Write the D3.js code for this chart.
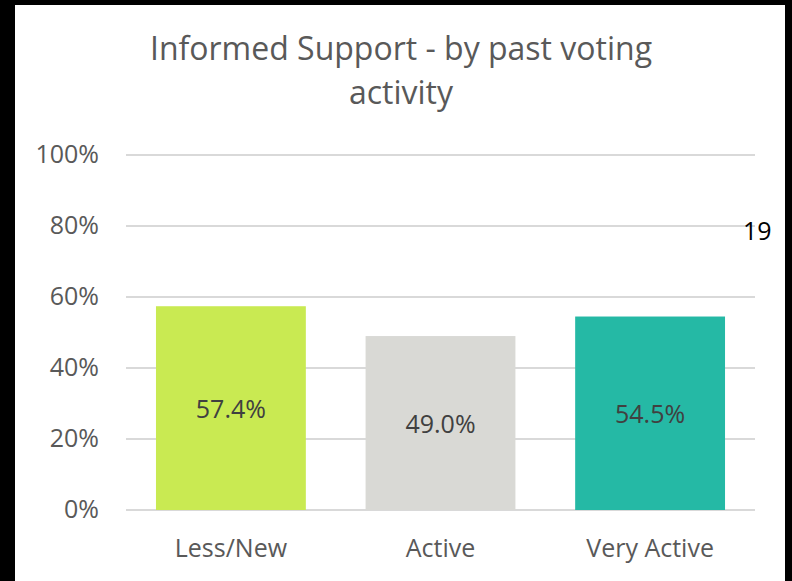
<!DOCTYPE html>
<html>
<head>
<meta charset="utf-8">
<script src="https://cdn.jsdelivr.net/npm/d3@7"></script>
<style>
  html, body { margin: 0; padding: 0; background: #000; }
  svg { display: block; }
  text { font-family: "Open Sans", "Noto Sans", sans-serif; }
</style>
</head>
<body>
<div id="chart"></div>
<script>
'use strict';

// Data
var categories = ['Less/New', 'Active', 'Very Active'];
var values = [0.574, 0.490, 0.545];
var barColors = ['#c9ea52', '#d9d9d5', '#25b9a5'];
var tickValues = [0, 0.2, 0.4, 0.6, 0.8, 1.0];
var titleLines = ['Informed Support - by past voting', 'activity'];
var pageNumber = '19';

var width = 792, height = 581;

var svg = d3.select('#chart').append('svg')
  .attr('width', width)
  .attr('height', height);

// black frame, white slide area
svg.append('rect').attr('width', width).attr('height', height).attr('fill', '#000');
svg.append('rect')
  .attr('x', 15).attr('y', 5)
  .attr('width', 770).attr('height', height - 5)
  .attr('fill', '#fff');

// plot area
var plot = { left: 126, right: 755, top: 155, bottom: 510 };

var x = d3.scaleBand()
  .domain(categories)
  .range([plot.left, plot.right])
  .paddingInner(0.285)
  .paddingOuter(0.143);

var y = d3.scaleLinear()
  .domain([0, 1])
  .range([plot.bottom, plot.top]);

// gridlines
svg.append('g').selectAll('line')
  .data(tickValues)
  .enter().append('line')
  .attr('x1', plot.left).attr('x2', plot.right)
  .attr('y1', function (d) { return y(d); })
  .attr('y2', function (d) { return y(d); })
  .attr('stroke', '#d9d9d9')
  .attr('stroke-width', 2);

// y tick labels
svg.append('g').selectAll('text')
  .data(tickValues)
  .enter().append('text')
  .attr('x', 99)
  .attr('y', function (d) { return y(d) + 8; })
  .attr('text-anchor', 'end')
  .attr('font-size', 25)
  .attr('fill', '#595959')
  .text(function (d) { return d3.format('.0%')(d); });

// bars
svg.append('g').selectAll('rect')
  .data(values)
  .enter().append('rect')
  .attr('x', function (d, i) { return x(categories[i]); })
  .attr('y', function (d) { return y(d); })
  .attr('width', x.bandwidth())
  .attr('height', function (d) { return y(0) - y(d); })
  .attr('fill', function (d, i) { return barColors[i]; });

// value labels, centred in each bar
svg.append('g').selectAll('text')
  .data(values)
  .enter().append('text')
  .attr('x', function (d, i) { return x(categories[i]) + x.bandwidth() / 2; })
  .attr('y', function (d) { return (y(d) + y(0)) / 2 + 10; })
  .attr('text-anchor', 'middle')
  .attr('font-size', 25)
  .attr('fill', '#404040')
  .text(function (d) { return d3.format('.1%')(d); });

// category labels
svg.append('g').selectAll('text')
  .data(categories)
  .enter().append('text')
  .attr('x', function (d) { return x(d) + x.bandwidth() / 2; })
  .attr('y', 557)
  .attr('text-anchor', 'middle')
  .attr('font-size', 25)
  .attr('fill', '#595959')
  .text(function (d) { return d; });

// title
svg.append('g').selectAll('text')
  .data(titleLines)
  .enter().append('text')
  .attr('x', 401)
  .attr('y', function (d, i) { return 60 + i * 44; })
  .attr('text-anchor', 'middle')
  .attr('font-size', 32)
  .attr('fill', '#595959')
  .text(function (d) { return d; });

// slide page number
svg.append('text')
  .attr('x', 743)
  .attr('y', 240)
  .attr('font-family', '"Liberation Sans", Arial, sans-serif')
  .attr('font-size', 25)
  .attr('fill', '#000')
  .text(pageNumber);
</script>
</body>
</html>
